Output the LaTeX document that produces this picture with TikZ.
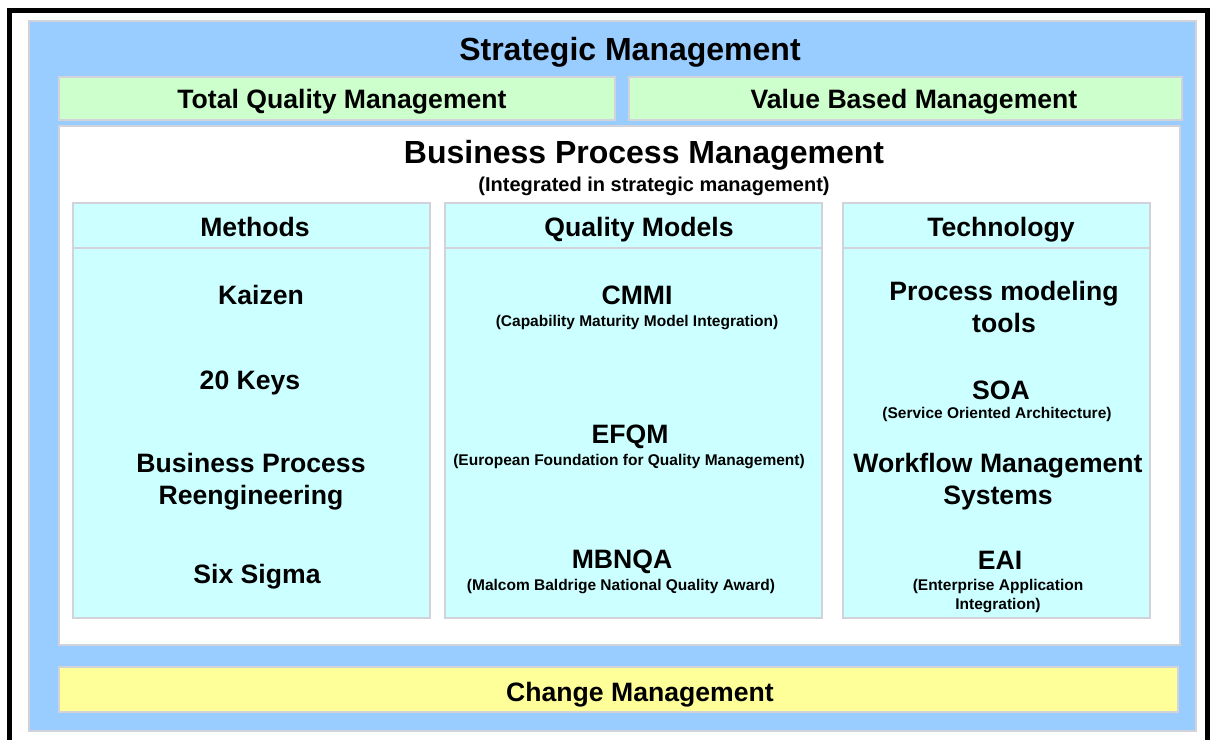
\documentclass[tikz,border=0pt]{standalone}
\usepackage{fontspec}
\setmainfont{Liberation Sans}

\definecolor{outerblue}{HTML}{99CCFF}
\definecolor{tqmgreen}{HTML}{CCFFCC}
\definecolor{colcyan}{HTML}{CCFFFF}
\definecolor{changeyellow}{HTML}{FFFF99}
\definecolor{edgegrey}{HTML}{D2D2DA}

\tikzset{
  panel/.style={draw=edgegrey, line width=2.2pt},
  bigtext/.style={font=\fontsize{32}{36}\selectfont\bfseries, inner sep=0pt},
  headtext/.style={font=\fontsize{26.6}{32}\selectfont\bfseries, inner sep=0pt, align=center},
  subtext/.style={font=\fontsize{15.5}{19}\selectfont\bfseries, inner sep=0pt, align=center},
}

\begin{document}
\begin{tikzpicture}[x=1pt,y=-1pt]
  \useasboundingbox (0,0) rectangle (1212,740);
  \fill[white] (0,0) rectangle (1212,740);

  % outer frame
  \draw[line width=5pt] (9.5,740) -- (9.5,10.5) -- (1207.5,10.5) -- (1207.5,740);

  % strategic management
  \filldraw[panel, fill=outerblue] (29,21) rectangle (1196,731);
  \node[bigtext, anchor=base] (title) at (630,60) {Strategic Management};

  \filldraw[panel, fill=tqmgreen] (59,77) rectangle (615,120);
  \filldraw[panel, fill=tqmgreen] (629,77) rectangle (1182,120);
  \node[headtext, anchor=base] (tqm) at (342,108) {Total Quality Management};
  \node[headtext, anchor=base] (vbm) at (914,108) {Value Based Management};

  % business process management
  \filldraw[panel, fill=white] (59,126) rectangle (1180,645);
  \node[bigtext, anchor=base] (bpm) at (644,163) {Business Process Management};
  \node[font=\fontsize{20}{24}\selectfont\bfseries, inner sep=0pt, anchor=base]
    (bpmsub) at (654,191) {(Integrated in strategic management)};

  % columns
  \filldraw[panel, fill=colcyan] (73,203) rectangle (430,618);
  \draw[panel] (73,248) -- (430,248);
  \filldraw[panel, fill=colcyan] (445,203) rectangle (822,618);
  \draw[panel] (445,248) -- (822,248);
  \filldraw[panel, fill=colcyan] (843,203) rectangle (1150,618);
  \draw[panel] (843,248) -- (1150,248);

  \node[headtext, anchor=base] (methods) at (255,236) {Methods};
  \node[headtext, anchor=base] (qmodels) at (639,236) {Quality Models};
  \node[headtext, anchor=base] (tech) at (1001,236) {Technology};

  % methods
  \node[headtext, anchor=base] (kaizen) at (261,304) {Kaizen};
  \node[headtext, anchor=base] (keys) at (250,389) {20 Keys};
  \node[headtext] (bpr) at (251,482) {Business Process\\Reengineering};
  \node[headtext, anchor=base] (sixsigma) at (257,583) {Six Sigma};

  % quality models
  \node[headtext, anchor=base] (cmmi) at (637,304) {CMMI};
  \node[subtext, anchor=base] (cmmisub) at (637,326.5) {(Capability Maturity Model Integration)};
  \node[headtext, anchor=base] (efqm) at (630,443) {EFQM};
  \node[subtext, anchor=base] (efqmsub) at (629,465.5) {(European Foundation for Quality Management)};
  \node[headtext, anchor=base] (mbnqa) at (622,568) {MBNQA};
  \node[subtext, anchor=base] (mbnqasub) at (621,590.5) {(Malcom Baldrige National Quality Award)};

  % technology
  \node[headtext] (pmt) at (1004,307) {Process modeling\\tools};
  \node[headtext, anchor=base] (soa) at (1001,399) {SOA};
  \node[subtext, anchor=base] (soasub) at (997,418.5) {(Service Oriented Architecture)};
  \node[headtext] (wfms) at (998,482) {Workflow Management\\Systems};
  \node[headtext, anchor=base] (eai) at (1000,569) {EAI};
  \node[subtext] (eaisub) at (998,596) {(Enterprise Application\\Integration)};

  % change management
  \filldraw[panel, fill=changeyellow] (59,667) rectangle (1178,712);
  \node[headtext, anchor=base] (change) at (640,701) {Change Management};
\end{tikzpicture}
\end{document}
